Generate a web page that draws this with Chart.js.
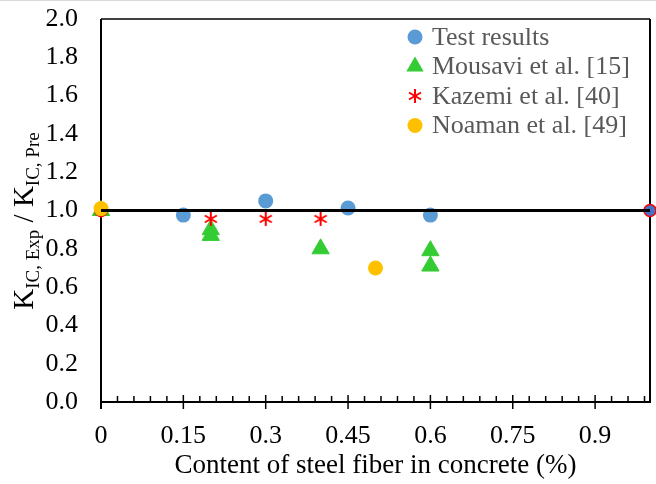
<!DOCTYPE html>
<html lang="en">
<head>
<meta charset="UTF-8">
<title>KIC ratio vs steel fiber content</title>
<script src="https://cdn.jsdelivr.net/npm/chart.js"></script>
<style>
  html, body { margin: 0; padding: 0; background: #fff; overflow: hidden; }
  #wrap { width: 656px; height: 484px; position: relative; }
  canvas { display: block; }
</style>
</head>
<body>
<div id="wrap"><canvas id="chart" width="656" height="484"></canvas></div>
<script>
// values
const testX = [0.15, 0.3, 0.45, 0.6];
const testY = [0.976, 1.05, 1.013, 0.976];
const mousaviX = [0, 0.2, 0.2, 0.4, 0.6, 0.6];
const mousaviY = [1.0, 0.90, 0.87, 0.80, 0.79, 0.71];
const kazemiX = [0, 0.2, 0.3, 0.4];
const kazemiY = [1.0, 0.956, 0.956, 0.956];
const noamanX = [0, 0.5];
const noamanY = [1.01, 0.70];
const refX = [0, 1];
const refY = [1, 1];
const xTicks = [0, 0.15, 0.3, 0.45, 0.6, 0.75, 0.9];
const yTicks = [0, 0.2, 0.4, 0.6, 0.8, 1.0, 1.2, 1.4, 1.6, 1.8, 2.0];

const FONT = '"Liberation Serif", "Times New Roman", serif';
const BLUE = '#5b9bd5', GREEN = '#33cc33', RED = '#ff0000', YELLOW = '#ffc000';

function pts(xs, ys) { return xs.map((x, i) => ({ x: x, y: ys[i] })); }

// excel-like asterisk marker (vertical + X)
const STAR = (function () {
  const c = document.createElement('canvas');
  c.width = 16; c.height = 16;
  const g = c.getContext('2d');
  g.strokeStyle = RED; g.lineWidth = 2;
  [90, 30, -30].forEach(a => {
    const r = a * Math.PI / 180, dx = Math.cos(r) * 7, dy = Math.sin(r) * 7;
    g.beginPath(); g.moveTo(8 - dx, 8 - dy); g.lineTo(8 + dx, 8 + dy); g.stroke();
  });
  return c;
})();

function line(ctx, x1, y1, x2, y2) {
  ctx.beginPath(); ctx.moveTo(x1, y1); ctx.lineTo(x2, y2); ctx.stroke();
}

// plot frame + x tick marks, under the markers
const framePlugin = {
  id: 'frame',
  beforeDatasetsDraw(chart) {
    const ctx = chart.ctx;
    const { left, right, top, bottom } = chart.chartArea;
    ctx.save();
    ctx.strokeStyle = '#d9d9d9'; ctx.lineWidth = 1;
    line(ctx, 0, 0.5, chart.width, 0.5);
    ctx.strokeStyle = '#000';
    ctx.lineWidth = 1.5;
    line(ctx, left, top, right, top);
    ctx.lineWidth = 2;
    line(ctx, right, top, right, bottom);
    line(ctx, left, top, left, bottom + 7);
    line(ctx, left - 1, bottom, right + 1, bottom);
    const xs = chart.scales.x;
    ctx.lineWidth = 1.5;
    for (let k = 1; k <= 33; k++) {
      const px = xs.getPixelForValue(k * 0.03);
      if (k % 5 === 0) line(ctx, px, bottom - 7, px, bottom + 7);
      else line(ctx, px, bottom - 6, px, bottom);
    }
    ctx.restore();
  }
};

// y title with subscripts + legend inside the plot
const textPlugin = {
  id: 'texts',
  afterDraw(chart) {
    const ctx = chart.ctx;
    ctx.save();
    const big = '29px ' + FONT, sub = '19px ' + FONT;
    const parts = [['K', big, 0], ['IC, Exp', sub, 6], [' / ', big, 0], ['K', big, 0], ['IC, Pre', sub, 6]];
    let total = 0;
    parts.forEach(p => { ctx.font = p[1]; p.push(ctx.measureText(p[0]).width); total += p[3]; });
    ctx.translate(33, 221);
    ctx.rotate(-Math.PI / 2);
    ctx.fillStyle = '#000';
    ctx.textBaseline = 'alphabetic';
    let x = -total / 2;
    parts.forEach(p => { ctx.font = p[1]; ctx.fillText(p[0], x, p[2]); x += p[3]; });
    ctx.restore();

    ctx.save();
    ctx.font = '26px ' + FONT;
    ctx.textBaseline = 'middle';
    const rows = chart.data.datasets.filter(d => d.legendRow !== undefined)
      .sort((a, b) => a.legendRow - b.legendRow);
    rows.forEach((d, i) => {
      const cy = 37 + i * 29.5, cx = 415;
      ctx.fillStyle = d.backgroundColor;
      if (d.pointStyle === 'triangle') {
        const r = 10;
        ctx.beginPath();
        ctx.moveTo(cx, cy - r);
        ctx.lineTo(cx + r * 0.866, cy + r / 2);
        ctx.lineTo(cx - r * 0.866, cy + r / 2);
        ctx.closePath(); ctx.fill();
      } else if (d.pointStyle === STAR) {
        ctx.drawImage(STAR, cx - 8, cy - 8);
      } else {
        ctx.beginPath(); ctx.arc(cx, cy, 7.5, 0, Math.PI * 2); ctx.fill();
      }
      ctx.fillStyle = '#595959';
      ctx.fillText(d.label, 432, cy + 1);
    });
    ctx.restore();
  }
};

new Chart(document.getElementById('chart'), {
  type: 'scatter',
  data: {
    datasets: [
      { label: 'ref', data: pts(refX, refY), showLine: true, borderColor: '#000', borderWidth: 3,
        pointRadius: 0, clip: false },
      { label: 'Noaman et al. [49]', legendRow: 3, data: pts(noamanX, noamanY), backgroundColor: YELLOW,
        borderColor: YELLOW, pointRadius: 7.5, borderWidth: 0, clip: false },
      { label: 'Kazemi et al. [40]', legendRow: 2, data: pts(kazemiX, kazemiY), backgroundColor: RED,
        pointStyle: STAR, clip: false },
      { label: 'ref points', data: pts(refX, refY), backgroundColor: '#4472c4', borderColor: RED,
        borderWidth: 1.5, pointRadius: 6, clip: false },
      { label: 'Mousavi et al. [15]', legendRow: 1, data: pts(mousaviX, mousaviY), backgroundColor: GREEN,
        borderColor: GREEN, borderWidth: 1, pointStyle: 'triangle', pointRadius: 10, clip: false },
      { label: 'Test results', legendRow: 0, data: pts(testX, testY), backgroundColor: BLUE,
        borderColor: BLUE, borderWidth: 0, pointRadius: 7.5, clip: false }
    ]
  },
  options: {
    responsive: false,
    animation: false,
    events: [],
    layout: { autoPadding: false, padding: { top: 19, right: 6, left: 0, bottom: 0 } },
    plugins: {
      legend: { display: false },
      tooltip: { enabled: false }
    },
    scales: {
      x: {
        type: 'linear', min: 0, max: 1,
        afterBuildTicks: s => { s.ticks = xTicks.map(v => ({ value: v })); },
        afterFit: s => { s.height = 82; s.paddingLeft = 0; s.paddingRight = 0; },
        grid: { display: false, drawTicks: false },
        border: { display: false },
        ticks: { color: '#000', font: { family: FONT, size: 26 }, padding: 19,
          maxRotation: 0, autoSkip: false, callback: v => String(+v.toFixed(2)) },
        title: { display: true, text: 'Content of steel fiber in concrete (%)', color: '#000',
          font: { family: FONT, size: 27 }, padding: { top: 0, bottom: 2 } }
      },
      y: {
        type: 'linear', min: 0, max: 2,
        afterBuildTicks: s => { s.ticks = yTicks.map(v => ({ value: v })); },
        afterFit: s => { s.width = 101; s.paddingTop = 0; s.paddingBottom = 0; },
        grid: { display: false, drawTicks: false },
        border: { display: false },
        ticks: { color: '#000', font: { family: FONT, size: 26 }, padding: 23,
          callback: v => v.toFixed(1) }
      }
    }
  },
  plugins: [framePlugin, textPlugin]
});
</script>
</body>
</html>
